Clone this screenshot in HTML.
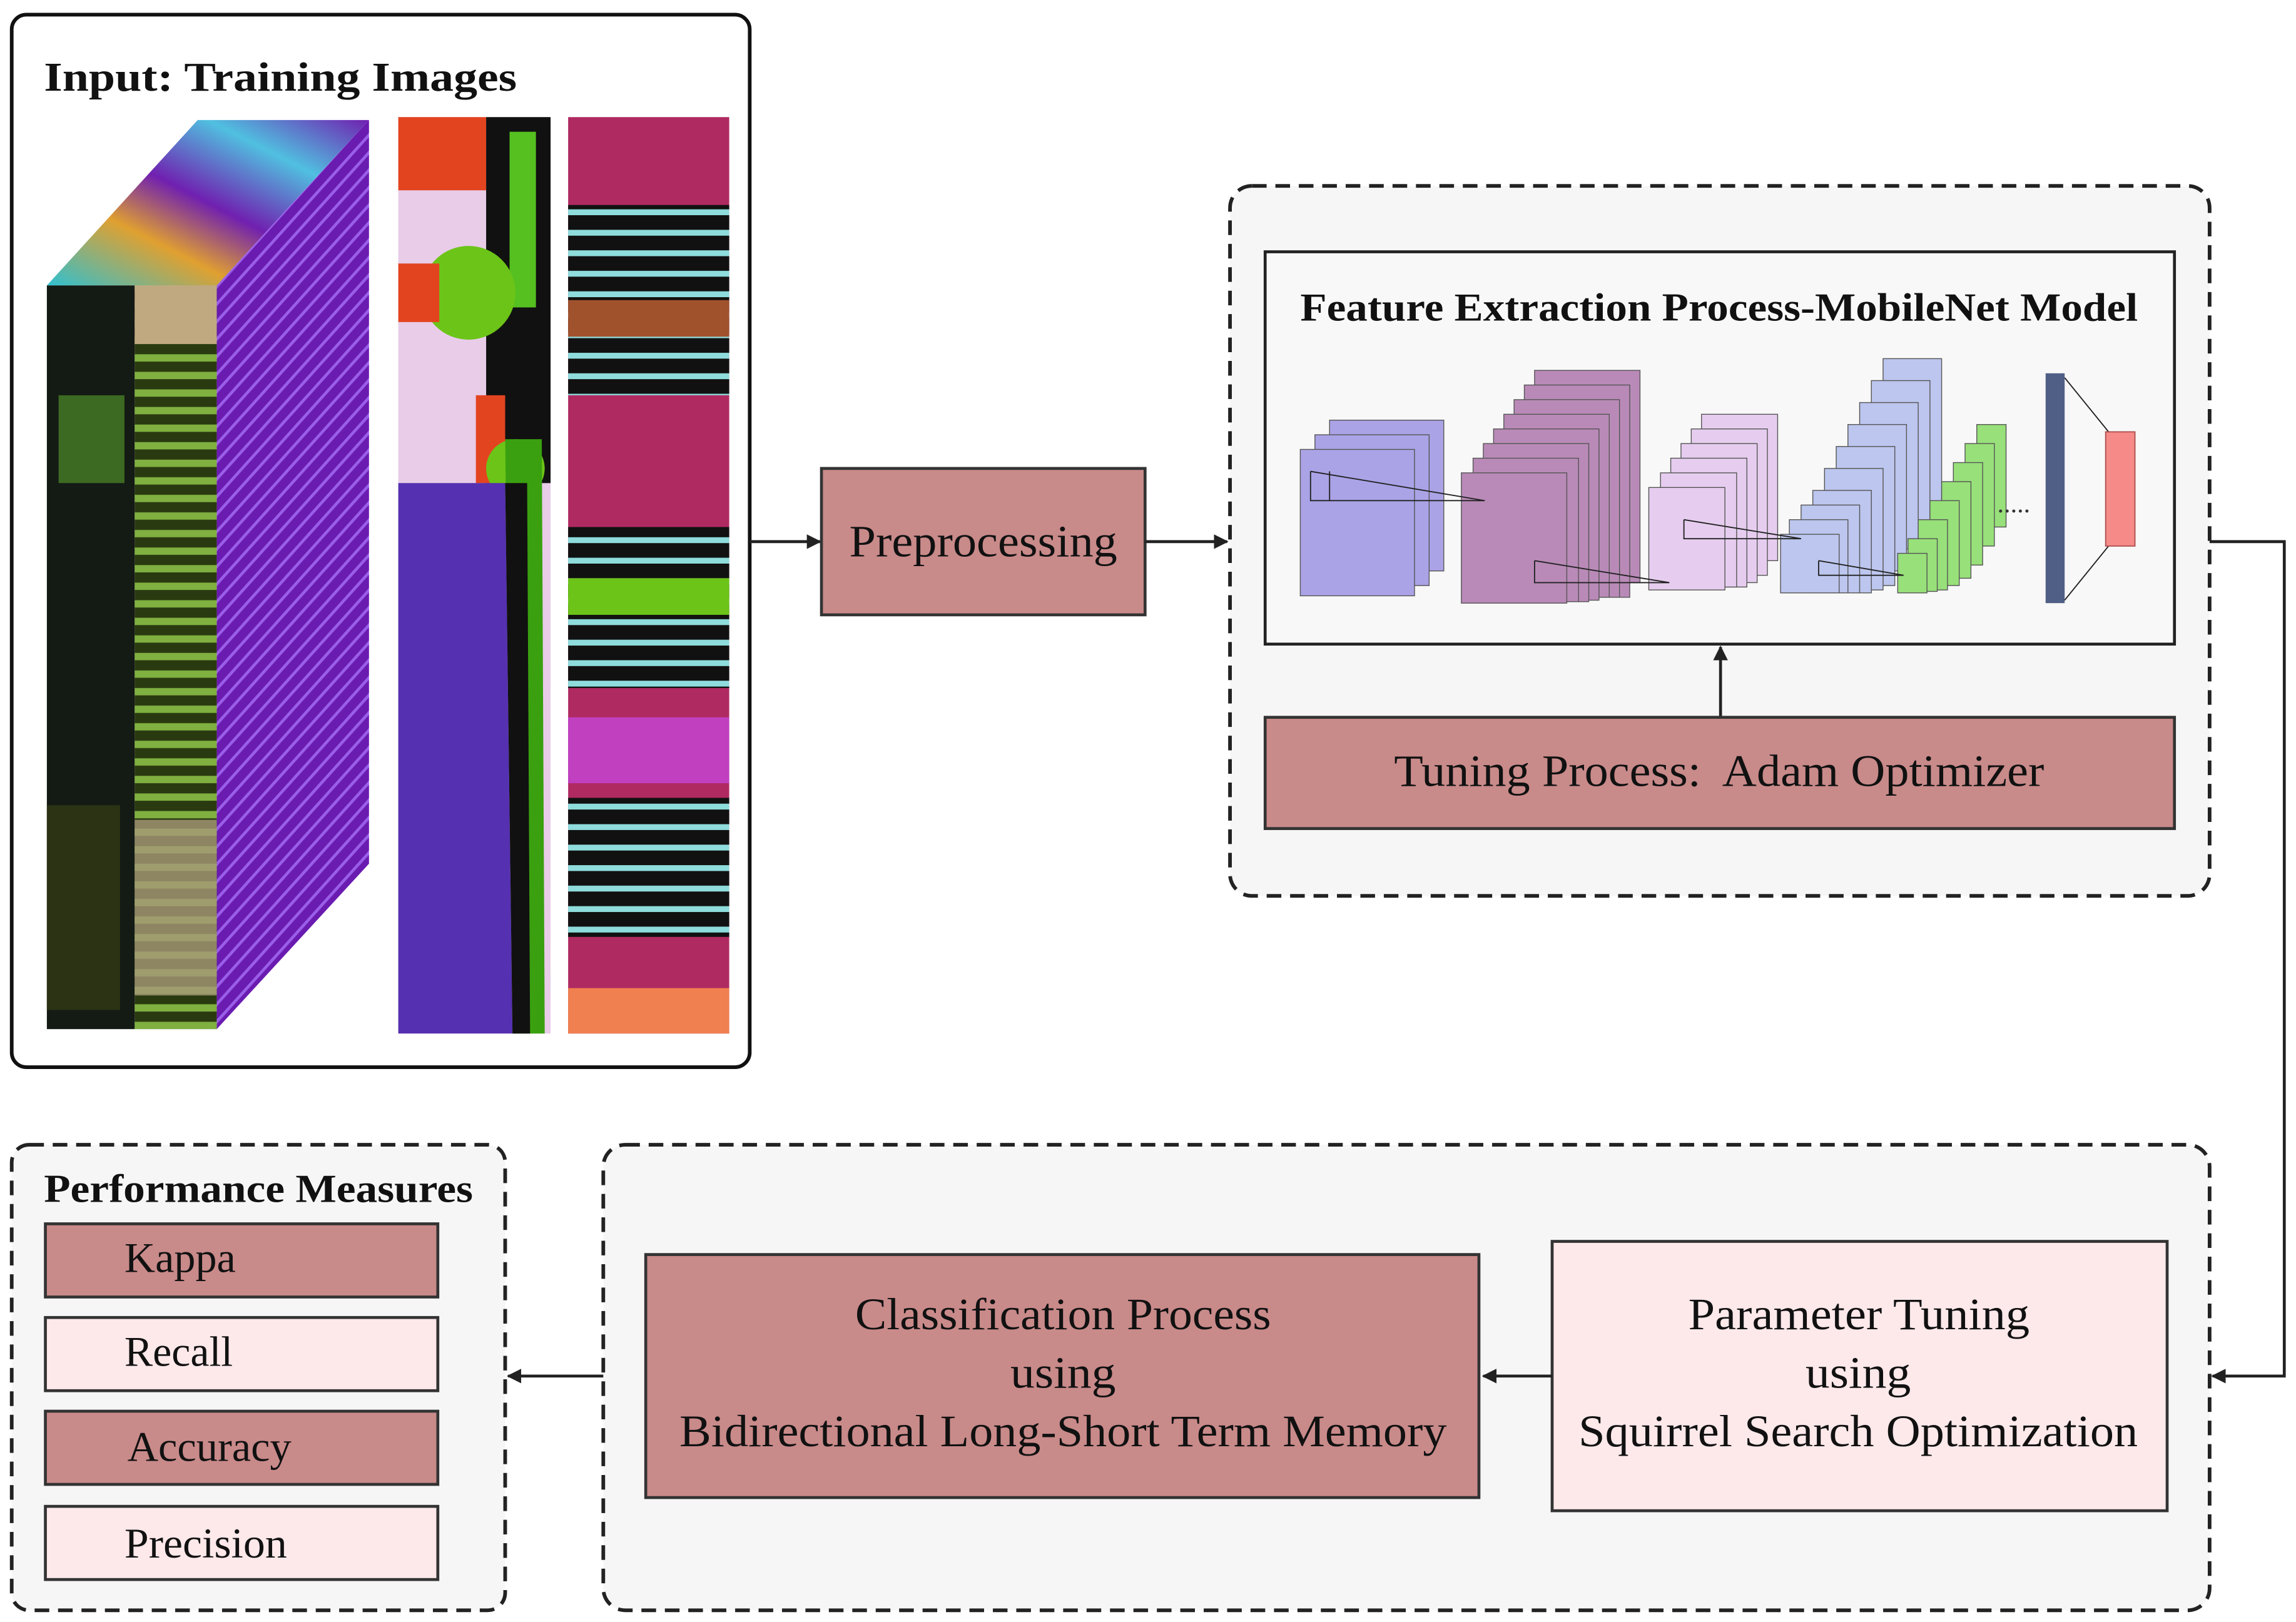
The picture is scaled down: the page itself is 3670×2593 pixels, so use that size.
<!DOCTYPE html>
<html><head><meta charset="utf-8"><style>html,body{margin:0;padding:0;background:#fff}svg{display:block}</style></head>
<body>
<svg width="3670" height="2593" viewBox="0 0 1568 1108" preserveAspectRatio="none" xmlns="http://www.w3.org/2000/svg" font-family="Liberation Serif, serif">
<defs>
<marker id="ar" markerWidth="10" markerHeight="10" refX="9" refY="5" orient="auto" markerUnits="userSpaceOnUse"><path d="M0,0 L10,5 L0,10 z" fill="#222"/></marker>
<pattern id="cyan" width="20" height="14" patternUnits="userSpaceOnUse"><rect width="20" height="14" fill="#111"/><rect y="3" width="20" height="4" fill="#8fdcdc"/></pattern>
<pattern id="side" width="8" height="8" patternUnits="userSpaceOnUse" patternTransform="rotate(-48)"><rect width="8" height="8" fill="#6a1bb0"/><rect width="8" height="2" fill="#9a5ee8"/></pattern>
<pattern id="rows" width="10" height="12" patternUnits="userSpaceOnUse"><rect width="10" height="12" fill="#2a3a10"/><rect y="2" width="10" height="5" fill="#7fb040"/></pattern>
<linearGradient id="top" x1="0" y1="1" x2="1" y2="0"><stop offset="0" stop-color="#30c0d0"/><stop offset="0.3" stop-color="#e0a030"/><stop offset="0.5" stop-color="#7020b0"/><stop offset="0.75" stop-color="#50c0e0"/><stop offset="1" stop-color="#7020b0"/></linearGradient>
</defs>

<rect x="8" y="10" width="504" height="719" rx="10" fill="#fff" stroke="#111" stroke-width="2.5"/>
<text x="30" y="62" font-size="28" font-weight="bold" fill="#111" textLength="323" lengthAdjust="spacingAndGlyphs">Input: Training Images</text>
<polygon points="32,195 135,82 252,82 148,195" fill="url(#top)"/>
<polygon points="148,195 252,82 252,590 148,703" fill="url(#side)"/>
<rect x="32" y="195" width="60" height="508" fill="#141a14"/>
<rect x="40" y="270" width="45" height="60" fill="#3c6a22"/>
<rect x="32" y="550" width="50" height="140" fill="#2c3214"/>
<rect x="92" y="195" width="56" height="508" fill="url(#rows)"/>
<rect x="92" y="195" width="56" height="40" fill="#c0a880"/>
<rect x="92" y="560" width="56" height="120" fill="#a89878" opacity="0.8"/>
<rect x="272" y="80" width="104" height="626" fill="#e8cce8"/>
<rect x="272" y="80" width="60" height="50" fill="#e34420"/>
<rect x="332" y="80" width="44" height="250" fill="#111"/>
<rect x="348" y="90" width="18" height="120" fill="#55c020"/>
<circle cx="320" cy="200" r="32" fill="#6cc418"/>
<rect x="272" y="180" width="28" height="40" fill="#e34420"/>
<rect x="325" y="270" width="20" height="60" fill="#e34420"/>
<circle cx="352" cy="320" r="20" fill="#6cc418"/>
<path d="M272,330 L345,330 L350,706 L272,706 Z" fill="#5530b0"/>
<path d="M345,300 L370,300 L372,706 L350,706 Z" fill="#3aa010"/>
<path d="M345,330 L360,330 L362,706 L350,706 Z" fill="#111"/>
<rect x="388" y="80" width="110" height="626" fill="#b02a62"/>
<rect x="388" y="140" width="110" height="130" fill="url(#cyan)"/>
<rect x="388" y="205" width="110" height="25" fill="#a0522d"/>
<rect x="388" y="360" width="110" height="110" fill="url(#cyan)"/>
<rect x="388" y="395" width="110" height="25" fill="#6cc418"/>
<rect x="388" y="490" width="110" height="45" fill="#c040c0"/>
<rect x="388" y="545" width="110" height="95" fill="url(#cyan)"/>
<rect x="388" y="675" width="110" height="31" fill="#f08050"/>

<line x1="512" y1="370" x2="560" y2="370" stroke="#222" stroke-width="2" marker-end="url(#ar)"/>
<rect x="561" y="320" width="221" height="100" fill="#c98a8a" stroke="#333" stroke-width="2"/>
<text x="580" y="380" font-size="31" fill="#111" textLength="183" lengthAdjust="spacingAndGlyphs">Preprocessing</text>
<line x1="782" y1="370" x2="838" y2="370" stroke="#222" stroke-width="2" marker-end="url(#ar)"/>

<rect x="840" y="127" width="669" height="485" rx="15" fill="#f6f6f6" stroke="#222" stroke-width="2.5" stroke-dasharray="10,6"/>
<rect x="864" y="172" width="621" height="268" fill="#f8f8f8" stroke="#222" stroke-width="2"/>
<text x="888" y="219" font-size="27" font-weight="bold" fill="#111" textLength="572" lengthAdjust="spacingAndGlyphs">Feature Extraction Process-MobileNet Model</text>
<g stroke="#555" stroke-width="0.6">
<rect x="908" y="287" width="78" height="103" fill="#aaa3e6"/>
<rect x="898" y="297" width="78" height="103" fill="#aaa3e6"/>
<rect x="888" y="307" width="78" height="100" fill="#aaa3e6"/>
<rect x="1048" y="253" width="72" height="145" fill="#b98ab8"/>
<rect x="1041" y="263" width="72" height="145" fill="#b98ab8"/>
<rect x="1034" y="273" width="72" height="135" fill="#b98ab8"/>
<rect x="1027" y="283" width="72" height="125" fill="#b98ab8"/>
<rect x="1020" y="293" width="72" height="117" fill="#b98ab8"/>
<rect x="1013" y="303" width="72" height="108" fill="#b98ab8"/>
<rect x="1006" y="313" width="72" height="98" fill="#b98ab8"/>
<rect x="998" y="323" width="72" height="89" fill="#b98ab8"/>
<rect x="1162" y="283" width="52" height="100" fill="#e6cdef"/>
<rect x="1155" y="293" width="52" height="100" fill="#e6cdef"/>
<rect x="1148" y="303" width="52" height="95" fill="#e6cdef"/>
<rect x="1141" y="313" width="52" height="88" fill="#e6cdef"/>
<rect x="1134" y="323" width="52" height="78" fill="#e6cdef"/>
<rect x="1126" y="333" width="52" height="70" fill="#e6cdef"/>
<rect x="1286" y="245" width="40" height="100" fill="#bcc6ee"/>
<rect x="1278" y="260" width="40" height="100" fill="#bcc6ee"/>
<rect x="1270" y="275" width="40" height="100" fill="#bcc6ee"/>
<rect x="1262" y="290" width="40" height="100" fill="#bcc6ee"/>
<rect x="1254" y="305" width="40" height="95" fill="#bcc6ee"/>
<rect x="1246" y="320" width="40" height="83" fill="#bcc6ee"/>
<rect x="1238" y="335" width="40" height="70" fill="#bcc6ee"/>
<rect x="1230" y="345" width="40" height="60" fill="#bcc6ee"/>
<rect x="1222" y="355" width="40" height="50" fill="#bcc6ee"/>
<rect x="1216" y="365" width="40" height="40" fill="#bcc6ee"/>
<rect x="1350" y="290" width="20" height="70" fill="#98e07a"/>
<rect x="1342" y="303" width="20" height="70" fill="#98e07a"/>
<rect x="1334" y="316" width="20" height="70" fill="#98e07a"/>
<rect x="1326" y="329" width="20" height="66" fill="#98e07a"/>
<rect x="1318" y="342" width="20" height="58" fill="#98e07a"/>
<rect x="1310" y="355" width="20" height="48" fill="#98e07a"/>
<rect x="1303" y="368" width="20" height="36" fill="#98e07a"/>
<rect x="1296" y="378" width="20" height="27" fill="#98e07a"/>
</g>
<g stroke="#222" stroke-width="0.8" fill="none">
<path d="M895,322 L895,342 L1014,342 L895,322 M908,322 L908,342"/>
<path d="M1048,383 L1048,398 L1140,398 L1048,383"/>
<path d="M1150,355 L1150,368 L1230,368 L1150,355"/>
<path d="M1242,383 L1242,393 L1300,393 L1242,383"/>
<path d="M1410,258 L1440,295 M1410,410 L1440,373"/>
</g>
<text x="1364" y="350" font-size="18" fill="#333">.....</text>
<rect x="1397" y="255" width="13" height="157" fill="#4f5f86"/>
<rect x="1438" y="295" width="20" height="78" fill="#f58a88" stroke="#b05050" stroke-width="0.8"/>

<line x1="1175" y1="490" x2="1175" y2="442" stroke="#222" stroke-width="2" marker-end="url(#ar)"/>
<rect x="864" y="490" width="621" height="76" fill="#c98a8a" stroke="#333" stroke-width="2"/>
<text x="952" y="537" font-size="31" fill="#111" xml:space="preserve" textLength="444" lengthAdjust="spacingAndGlyphs">Tuning Process:  Adam Optimizer</text>

<polyline points="1509,370 1560,370 1560,940 1511,940" fill="none" stroke="#222" stroke-width="2" marker-end="url(#ar)"/>

<rect x="412" y="782" width="1097" height="318" rx="15" fill="#f6f6f6" stroke="#222" stroke-width="2.5" stroke-dasharray="10,6"/>
<rect x="1060" y="848" width="420" height="184" fill="#fde8ea" stroke="#333" stroke-width="2"/>
<g font-size="31" fill="#111">
<text x="1153" y="908" textLength="233" lengthAdjust="spacingAndGlyphs">Parameter Tuning</text>
<text x="1233" y="948" textLength="72" lengthAdjust="spacingAndGlyphs">using</text>
<text x="1078" y="988" textLength="382" lengthAdjust="spacingAndGlyphs">Squirrel Search Optimization</text>
</g>
<line x1="1060" y1="940" x2="1013" y2="940" stroke="#222" stroke-width="2" marker-end="url(#ar)"/>
<rect x="441" y="857" width="569" height="166" fill="#c98a8a" stroke="#333" stroke-width="2"/>
<g font-size="31" fill="#111">
<text x="584" y="908" textLength="284" lengthAdjust="spacingAndGlyphs">Classification Process</text>
<text x="690" y="948" textLength="72" lengthAdjust="spacingAndGlyphs">using</text>
<text x="464" y="988" textLength="524" lengthAdjust="spacingAndGlyphs">Bidirectional Long-Short Term Memory</text>
</g>
<line x1="412" y1="940" x2="347" y2="940" stroke="#222" stroke-width="2" marker-end="url(#ar)"/>

<rect x="8" y="782" width="337" height="318" rx="12" fill="#f6f6f6" stroke="#222" stroke-width="2.5" stroke-dasharray="10,6"/>
<text x="30" y="821" font-size="27" font-weight="bold" fill="#111" textLength="293" lengthAdjust="spacingAndGlyphs">Performance Measures</text>
<g stroke="#333" stroke-width="2">
<rect x="31" y="836" width="268" height="50" fill="#c98a8a"/>
<rect x="31" y="900" width="268" height="50" fill="#fde8ea"/>
<rect x="31" y="964" width="268" height="50" fill="#c98a8a"/>
<rect x="31" y="1029" width="268" height="50" fill="#fde8ea"/>
</g>
<g font-size="29" fill="#111">
<text x="85" y="869" textLength="76" lengthAdjust="spacingAndGlyphs">Kappa</text>
<text x="85" y="933" textLength="74" lengthAdjust="spacingAndGlyphs">Recall</text>
<text x="87" y="998" textLength="112" lengthAdjust="spacingAndGlyphs">Accuracy</text>
<text x="85" y="1064" textLength="111" lengthAdjust="spacingAndGlyphs">Precision</text>
</g>
</svg>
</body></html>
